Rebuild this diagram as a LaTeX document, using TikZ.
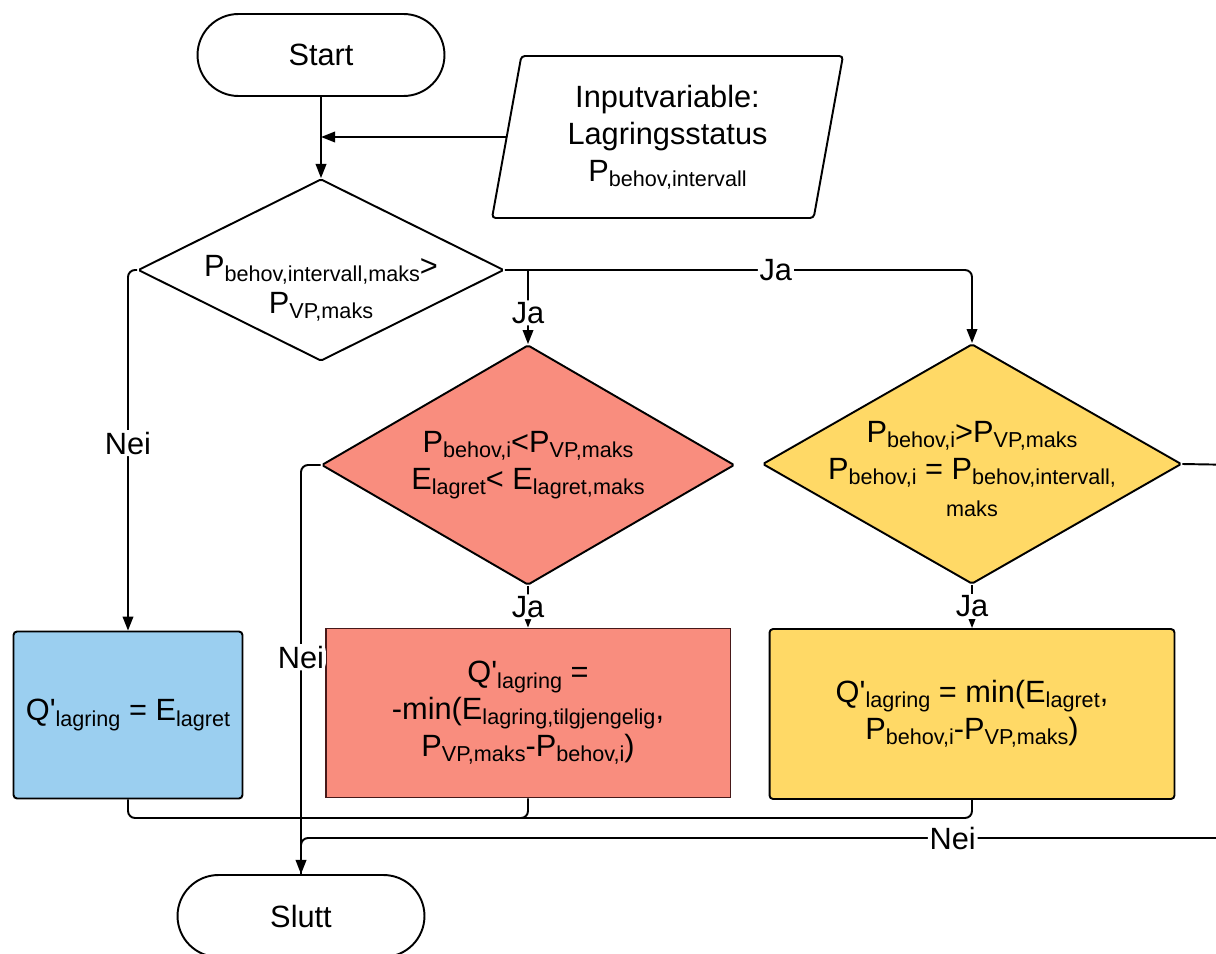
\documentclass[tikz,border=0pt]{standalone}
\usepackage{fontspec}
\setmainfont{Liberation Sans}
\usepackage{tikz}
\usetikzlibrary{shapes.geometric}
\usetikzlibrary{arrows.meta}
\usetikzlibrary{positioning}

\definecolor{lysblaa}{RGB}{155,207,240}
\definecolor{lysroed}{RGB}{249,141,126}
\definecolor{lysgul}{RGB}{255,217,102}
\definecolor{moerkroed}{RGB}{70,25,25}
\newcommand{\lo}[1]{\raisebox{-3pt}{\fontsize{12.3}{14}\selectfont #1}}
\newcommand{\Qm}{Q\textquotesingle}

\begin{document}
\begin{tikzpicture}[x=0.02cm,y=-0.02cm,
  every node/.style={font=\fontsize{17.5}{21}\selectfont},
  term/.style={draw,line width=1.1pt,rectangle,rounded corners=0.82cm,minimum width=4.94cm,minimum height=1.64cm},
  innd/.style={draw,line width=1.1pt,trapezium,trapezium left angle=75.8,trapezium right angle=104.2,trapezium stretches body=true,inner xsep=0pt,rounded corners=2pt,minimum width=7.02cm,minimum height=3.24cm,align=center},
  cond/.style={draw,line width=1.1pt,diamond,rounded corners=1pt,inner sep=0pt},
  dtxt/.style={align=center,inner sep=0pt},
  boks/.style={draw,line width=1.1pt,rectangle,rounded corners=2pt,align=center},
  conn/.style={line width=1.1pt,rounded corners=4pt},
  arr/.style={conn,-{Triangle[length=8pt,width=6pt]}},
  lab/.style={fill=white,inner sep=1pt}]
  \useasboundingbox (0,0) rectangle (1216,953);

  \node[term] (start) at (321,55) {Start};
  \node[innd] (inn) at (667.5,137) {Inputvariable:\\Lagringsstatus\\P\lo{behov,intervall}};
  \node[cond,minimum width=7.32cm,minimum height=3.64cm,
    label={[dtxt,yshift=-0.36cm]center:{P\lo{behov,intervall,maks}>\\P\lo{VP,maks}}}] (d1) at (321,270) {};
  \node[cond,fill=lysroed,minimum width=8.26cm,minimum height=4.8cm,
    label={[dtxt]center:{P\lo{behov,i}<P\lo{VP,maks}\\E\lo{lagret}< E\lo{lagret,maks}}}] (d2) at (528,465) {};
  \node[cond,fill=lysgul,minimum width=8.38cm,minimum height=4.8cm,
    label={[dtxt,yshift=-0.1cm]center:{P\lo{behov,i}>P\lo{VP,maks}\\P\lo{behov,i} = P\lo{behov,intervall,}\\{\fontsize{12.3}{14}\selectfont maks}}}] (d3) at (972,464) {};

  \node[boks,fill=lysblaa,minimum width=4.58cm,minimum height=3.34cm] (qb) at (128,715) {\Qm\lo{lagring} = E\lo{lagret}};
  \node[boks,fill=lysroed,draw=moerkroed,rounded corners=0pt,minimum width=8.1cm,minimum height=3.38cm] (qr) at (528,713) {\Qm\lo{lagring} =\\-min(E\lo{lagring,tilgjengelig},\\P\lo{VP,maks}-P\lo{behov,i})};
  \node[boks,fill=lysgul,minimum width=8.1cm,minimum height=3.4cm] (qy) at (972,714) {\Qm\lo{lagring} = min(E\lo{lagret},\\P\lo{behov,i}-P\lo{VP,maks})};
  \node[term] (slutt) at (301,916) {Slutt};

  \coordinate (j1) at (start.south |- inn.west);
  \coordinate (b1) at (d2.north |- d1.east);
  \coordinate (m1) at (301,818);
  \coordinate (e1) at (1240,465);
  \coordinate (e2) at (1240,838);

  \draw[arr] (start.south) -- (d1.north);
  \draw[arr] (inn.west) -- (j1);
  \draw[arr] (d1.west) -| node[lab,pos=0.74]{Nei} (qb.north);
  \draw[arr] (d1.east) -| node[lab,pos=0.29]{Ja} (d3.north);
  \draw[arr] (b1) -- node[lab,pos=0.58]{Ja} (d2.north);
  \draw[arr] (d2.south) -- node[lab]{Ja} (qr.north);
  \draw[arr] (d3.south) -- node[lab]{Ja} (qy.north);
  \draw[arr] (d2.west) -| node[lab,pos=0.735]{Nei} (slutt.north);
  \draw[conn] (qb.south) |- (m1);
  \draw[conn] (qr.south) |- (m1);
  \draw[conn] (qy.south) |- (m1);
  \draw[conn] (d3.east) -- (e1) -- (e2) -| node[lab,pos=0.153]{Nei} (slutt.north);
\end{tikzpicture}
\end{document}
